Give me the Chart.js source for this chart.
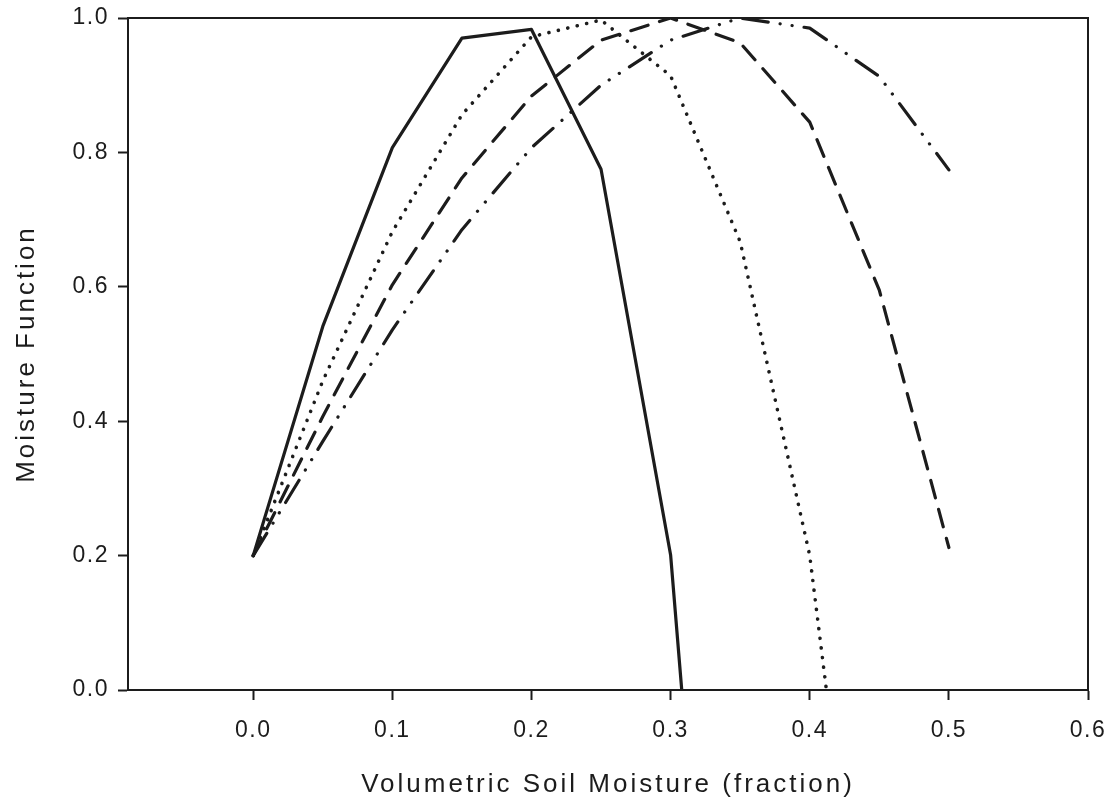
<!DOCTYPE html>
<html>
<head>
<meta charset="utf-8">
<script src="https://cdn.jsdelivr.net/npm/chart.js@4.4.1/dist/chart.umd.min.js"></script>
<style>
    html, body { margin: 0; padding: 0; background: #fff; }
    #wrap { width: 1111px; height: 807px; }
</style>
</head>
<body>
<div id="wrap"><canvas id="chart"></canvas></div>
<script>
// x ticks and axis range
const xTicks = [0, 0.1, 0.2, 0.3, 0.4, 0.5, 0.6]
const xMin = -0.09
const xMax = 0.6

// moisture steps used by the curves
const steps = [0, 0.05, 0.1, 0.15, 0.2, 0.25, 0.3, 0.35, 0.4, 0.45, 0.5]

// solid curve (drops to zero just after 0.3)
const solidX = [0, 0.05, 0.1, 0.15, 0.2, 0.25, 0.3, 0.308]
const solidY = [0.2, 0.541, 0.807, 0.970, 0.983, 0.775, 0.201, 0]

// dotted curve (drops to zero just after 0.4)
const dottedX = [0, 0.05, 0.1, 0.15, 0.2, 0.25, 0.3, 0.35, 0.4, 0.412]
const dottedY = [0.2, 0.46, 0.682, 0.856, 0.972, 0.997, 0.914, 0.667, 0.2, 0]

// dashed and dash-dot curves on the regular steps
const dashedY = [0.2, 0.407, 0.603, 0.762, 0.884, 0.967, 1.0, 0.963, 0.845, 0.595, 0.212]
const dashDotY = [0.2, 0.37, 0.536, 0.685, 0.807, 0.9, 0.967, 1.0, 0.985, 0.913, 0.774]

function toPoints(xs, ys) {
    return xs.map((x, i) => ({ x: x, y: ys[i] }))
}

const ink = '#1c1c1c'
const tickFont = { family: '"Liberation Sans", Arial, sans-serif', size: 23, lineHeight: 1.2 }
const titleFont = { family: '"Liberation Sans", Arial, sans-serif', size: 26, lineHeight: 1 }
const tickSpacing = '1.5px'
const titleSpacing = '3px'

function lineSet(data, dash, width) {
    return {
        data: data,
        borderColor: ink,
        borderWidth: width,
        borderDash: dash,
        borderCapStyle: 'round',
        borderJoinStyle: 'round',
        pointRadius: 0,
        fill: false,
        tension: 0
    }
}

// frame on top and right, plus the wide letter spacing of the picture
const framePlugin = {
    id: 'frame',
    beforeDraw(chart) {
        chart.ctx.letterSpacing = tickSpacing
        Object.values(chart.scales).forEach(scale => {
            if (scale._spaced) return
            let orig = scale.drawTitle
            scale.drawTitle = function() {
                this.ctx.letterSpacing = titleSpacing
                orig.apply(this, arguments)
                this.ctx.letterSpacing = tickSpacing
            }
            scale._spaced = true
        })
    },
    afterDraw(chart) {
        const { ctx, chartArea } = chart
        ctx.save()
        ctx.strokeStyle = ink
        ctx.lineWidth = 2
        ctx.beginPath()
        ctx.moveTo(chartArea.left, chartArea.top)
        ctx.lineTo(chartArea.right, chartArea.top)
        ctx.lineTo(chartArea.right, chartArea.bottom)
        ctx.stroke()
        ctx.restore()
    }
}

const ctx = document.getElementById('chart').getContext('2d')
new Chart(ctx, {
    type: 'line',
    data: {
        datasets: [
            lineSet(toPoints(solidX, solidY), [], 3.2),
            lineSet(toPoints(dottedX, dottedY), [0.1, 9.6], 3.6),
            lineSet(toPoints(steps, dashedY), [18, 12], 3.2),
            lineSet(toPoints(steps, dashDotY), [26, 12, 0.1, 12, 0.1, 12], 3.2)
        ]
    },
    options: {
        responsive: true,
        maintainAspectRatio: false,
        animation: false,
        layout: { padding: { top: 18, right: 23, left: 0, bottom: 0 } },
        plugins: { legend: { display: false }, tooltip: { enabled: false } },
        scales: {
            x: {
                type: 'linear',
                min: xMin,
                max: xMax,
                afterBuildTicks: axis => {
                    axis.ticks = xTicks.map(v => ({ value: v }))
                },
                afterFit: axis => {
                    axis.height = 117
                    axis.paddingLeft = 0
                    axis.paddingRight = 0
                },
                grid: { drawOnChartArea: false, drawTicks: true, tickLength: 10, tickColor: ink, tickWidth: 2 },
                border: { display: true, color: ink, width: 2 },
                ticks: {
                    color: ink,
                    font: tickFont,
                    padding: 17,
                    maxRotation: 0,
                    callback: v => v.toFixed(1)
                },
                title: {
                    display: true,
                    text: 'Volumetric Soil Moisture (fraction)',
                    color: ink,
                    font: titleFont,
                    padding: { top: 0, bottom: 9 }
                }
            },
            y: {
                min: 0,
                max: 1,
                afterFit: axis => {
                    axis.width = 128
                    axis.paddingTop = 0
                    axis.paddingBottom = 0
                },
                grid: { drawOnChartArea: false, drawTicks: true, tickLength: 10, tickColor: ink, tickWidth: 2 },
                border: { display: true, color: ink, width: 2 },
                ticks: {
                    stepSize: 0.2,
                    color: ink,
                    font: tickFont,
                    padding: 9,
                    callback: v => v.toFixed(1)
                },
                title: {
                    display: true,
                    text: 'Moisture Function',
                    color: ink,
                    font: titleFont,
                    padding: { top: 14, bottom: 0 }
                }
            }
        }
    },
    plugins: [framePlugin]
})
</script>
</body>
</html>
